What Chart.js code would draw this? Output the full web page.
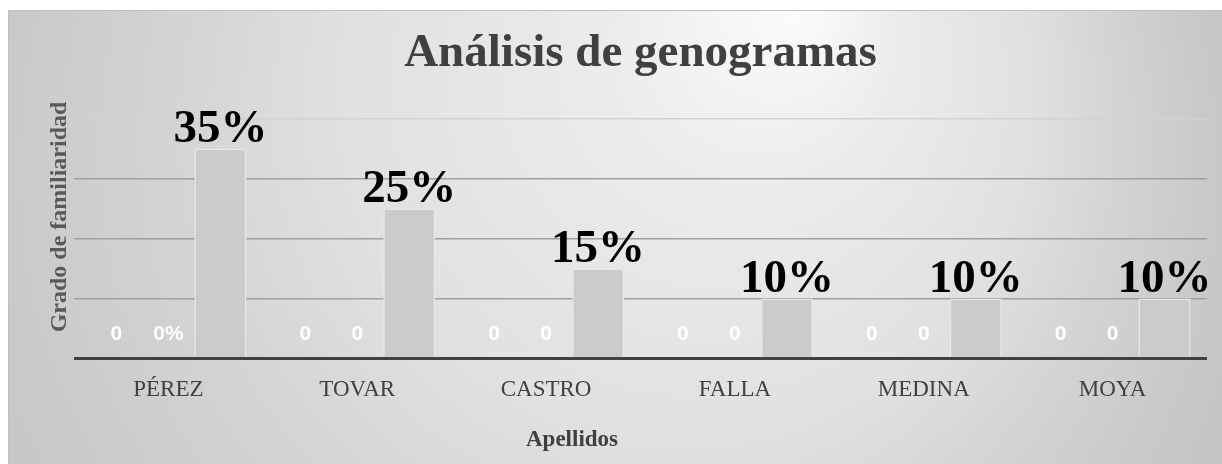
<!DOCTYPE html>
<html>
<head>
<meta charset="utf-8">
<title>Análisis de genogramas</title>
<script src="https://cdn.jsdelivr.net/npm/chart.js@4.4.1/dist/chart.umd.min.js"></script>
<style>
    body { margin: 0; background: #ffffff; }
    #grafico { display: block; }
</style>
</head>
<body>
<canvas id="grafico" width="1222" height="464"></canvas>
<script>
const categorias = ["PÉREZ", "TOVAR", "CASTRO", "FALLA", "MEDINA", "MOYA"];
const serie1 = [0, 0, 0, 0, 0, 0];
const serie2 = [0, 0, 0, 0, 0, 0];
const serie3 = [0.35, 0.25, 0.15, 0.10, 0.10, 0.10];
const etiquetas1 = ["0", "0", "0", "0", "0", "0"];
const etiquetas2 = ["0%", "0", "0", "0", "0", "0"];
const ticksY = [0, 0.1, 0.2, 0.3, 0.4];

const serif = "'Liberation Serif', 'Times New Roman', serif";
const sans = "'Liberation Sans', Arial, sans-serif";

// fondo degradado + borde del grafico
const fondo = {
    id: "fondo",
    beforeDraw(chart) {
        const ctx = chart.ctx;
        ctx.save();
        ctx.fillStyle = "#ffffff";
        ctx.fillRect(0, 0, chart.width, chart.height);
        const g = ctx.createRadialGradient(800, 0, 0, 570, 200, 700);
        g.addColorStop(0, "#fcfcfc");
        g.addColorStop(0.2, "#ececec");
        g.addColorStop(0.5, "#e0e0e0");
        g.addColorStop(0.67, "#d4d4d4");
        g.addColorStop(0.87, "#c9c9c9");
        g.addColorStop(1, "#c4c4c4");
        ctx.fillStyle = g;
        ctx.fillRect(8, 10, chart.width - 8, chart.height - 10);
        ctx.strokeStyle = "#c0c0c0";
        ctx.lineWidth = 1;
        ctx.beginPath();
        ctx.moveTo(8.5, chart.height);
        ctx.lineTo(8.5, 10.5);
        ctx.lineTo(chart.width, 10.5);
        ctx.stroke();
        ctx.restore();
    }
};

// etiquetas de datos y titulos de ejes
const etiquetas = {
    id: "etiquetas",
    afterDatasetsDraw(chart) {
        const ctx = chart.ctx;
        ctx.save();
        ctx.textAlign = "center";

        [etiquetas1, etiquetas2].forEach((txt, d) => {
            const meta = chart.getDatasetMeta(d);
            ctx.font = "bold 21px " + sans;
            ctx.fillStyle = "#ffffff";
            ctx.textBaseline = "middle";
            meta.data.forEach((bar, i) => {
                ctx.fillText(txt[i], bar.x, bar.base - 24);
            });
        });

        const meta3 = chart.getDatasetMeta(2);
        ctx.font = "bold 47px " + serif;
        ctx.fillStyle = "#000000";
        ctx.textBaseline = "alphabetic";
        meta3.data.forEach((bar, i) => {
            ctx.fillText(Math.round(serie3[i] * 100) + "%", bar.x, bar.y - 6);
        });

        // titulo eje x
        ctx.font = "bold 23px " + serif;
        ctx.fillStyle = "#404040";
        ctx.textBaseline = "middle";
        ctx.fillText("Apellidos", 572, 440);

        // titulo eje y
        ctx.font = "bold 24px " + serif;
        ctx.fillStyle = "#595959";
        ctx.translate(60, 217);
        ctx.rotate(-Math.PI / 2);
        ctx.fillText("Grado de familiaridad", 0, 0);
        ctx.restore();
    }
};

new Chart(document.getElementById("grafico"), {
    type: "bar",
    data: {
        labels: categorias,
        datasets: [{
            label: "Serie 1",
            data: serie1,
            backgroundColor: "#a5a5a5",
            borderWidth: 0
        }, {
            label: "Serie 2",
            data: serie2,
            backgroundColor: "#a5a5a5",
            borderWidth: 0
        }, {
            label: "Grado",
            data: serie3,
            backgroundColor: "#cbcbcb",
            borderColor: "#e8e8e8",
            borderWidth: 1.5
        }]
    },
    options: {
        responsive: false,
        animation: false,
        devicePixelRatio: 1,
        categoryPercentage: 0.826,
        barPercentage: 1.0,
        layout: {
            padding: { top: 10, left: 74, right: 15, bottom: 50 }
        },
        plugins: {
            legend: { display: false },
            tooltip: { enabled: false },
            title: {
                display: true,
                text: "Análisis de genogramas",
                color: "#404040",
                font: { family: serif, size: 47, weight: "bold", lineHeight: 1.2 },
                padding: { top: 16, bottom: 36 }
            }
        },
        scales: {
            x: {
                grid: { display: false },
                border: { display: false },
                ticks: {
                    color: "#404040",
                    padding: 10,
                    font: { family: serif, size: 23, lineHeight: 1.2 }
                }
            },
            y: {
                min: ticksY[0],
                max: ticksY[ticksY.length - 1],
                border: { display: false },
                afterBuildTicks: axis => {
                    axis.ticks = ticksY.map(v => ({ value: v }));
                },
                grid: {
                    drawTicks: false,
                    color: c => c.index === 0 ? "#404040" : (c.index === ticksY.length - 1 ? "#d2d2d2" : "#a0a0a0"),
                    lineWidth: c => c.index === 0 ? 3 : 1.5
                },
                ticks: { display: false }
            }
        }
    },
    plugins: [fondo, etiquetas]
});
</script>
</body>
</html>
